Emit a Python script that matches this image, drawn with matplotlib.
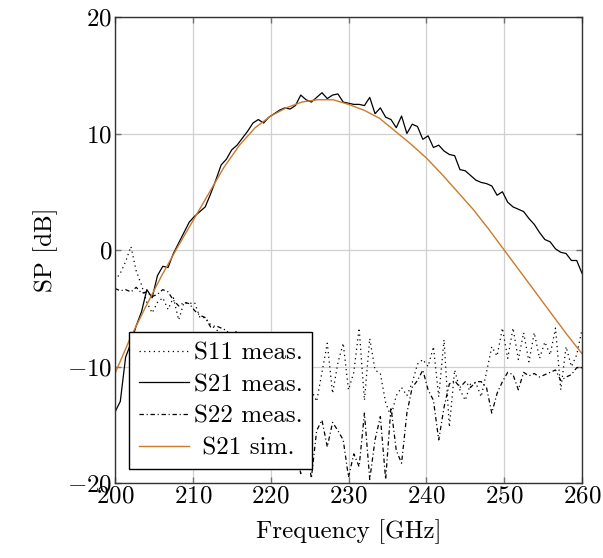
import matplotlib
matplotlib.use("Agg")
import matplotlib.pyplot as plt
import numpy as np

plt.rcParams.update(
    {
        "font.family": "serif",
        "font.serif": ["cmr10"],
        "mathtext.fontset": "cm",
        "axes.formatter.use_mathtext": True,
        "font.size": 18,
        "axes.unicode_minus": True,
    }
)

# frequency grid of the measurement (GHz)
freq = np.linspace(200, 260, 89)

s11_meas = [
    -2.6, -2.0, -1.0, 0.3, -1.8, -3.0, -4.5, -5.4, -4.5, -4.1,
    -5.1, -4.1, -6.0, -4.5, -4.6, -4.5, -5.8, -5.8, -6.4, -6.8,
    -7.2, -8.0, -9.5, -8.5, -10.5, -9.2, -11.5, -10.0, -12.5, -10.8,
    -13.0, -11.0, -14.0, -11.5, -13.5, -10.5, -14.0, -12.0, -13.0, -10.5,
    -8.0, -12.3, -9.7, -8.0, -12.0, -10.5, -6.7, -12.9, -7.6, -10.3,
    -10.6, -13.1, -14.3, -12.5, -11.8, -12.5, -11.4, -9.8, -9.4, -10.0,
    -8.3, -12.6, -7.7, -15.2, -10.3, -12.0, -12.9, -11.5, -11.4, -12.6,
    -10.5, -8.3, -9.1, -6.7, -9.3, -6.7, -9.4, -7.1, -9.6, -7.1,
    -9.3, -7.9, -9.0, -6.7, -12.0, -8.3, -10.0, -9.0, -6.8,
]

s21_meas = [
    -13.9, -13.0, -9.2, -8.0, -6.5, -5.3, -3.4, -4.1, -2.2, -1.4,
    -1.5, -0.3, 0.6, 1.5, 2.4, 2.9, 3.3, 3.7, 4.8, 6.0,
    7.3, 7.8, 8.6, 9.0, 9.6, 10.2, 10.9, 11.2, 10.9, 11.4,
    11.7, 12.0, 12.2, 12.1, 12.4, 13.3, 12.9, 12.7, 13.1, 13.5,
    13.0, 13.3, 13.4, 12.7, 12.6, 12.5, 12.5, 12.4, 13.1, 11.7,
    12.2, 11.4, 11.2, 10.5, 11.5, 10.0, 10.8, 10.6, 9.5, 9.8,
    8.8, 9.0, 8.5, 8.2, 8.1, 6.9, 6.8, 6.4, 6.0, 5.8,
    5.7, 5.5, 4.7, 5.0, 4.1, 3.7, 3.5, 3.3, 2.7, 2.2,
    1.5, 0.9, 0.7, 0.1, -0.2, -0.3, -0.9, -0.9, -2.0,
]

s22_meas = [
    -3.3, -3.5, -3.4, -3.6, -3.2, -3.7, -3.6, -4.0, -3.8, -3.4,
    -3.6, -4.3, -4.8, -4.5, -4.6, -5.2, -5.6, -5.8, -6.6, -6.5,
    -6.7, -6.9, -7.5, -6.9, -8.2, -8.8, -9.5, -10.2, -11.0, -12.5,
    -11.8, -13.5, -14.2, -15.5, -17.0, -19.2, -16.5, -19.6, -15.5, -14.6,
    -16.9, -14.8, -15.5, -16.3, -19.5, -17.5, -18.6, -14.0, -19.7, -16.3,
    -14.3, -19.7, -13.5, -17.2, -18.3, -14.0, -11.8, -11.2, -10.3, -12.0,
    -12.9, -16.3, -13.5, -11.5, -11.2, -11.8, -11.3, -11.8, -11.3, -11.3,
    -11.8, -14.0, -12.3, -11.3, -10.5, -10.7, -12.0, -10.5, -10.8, -10.6,
    -10.9, -10.7, -10.5, -10.3, -11.2, -10.9, -10.7, -10.1, -10.1,
]

# simulated S21
freq_sim = np.arange(200, 261, 2)
s21_sim = [
    -10.6, -7.5, -4.8, -2.2, 0.2, 2.5, 4.8, 7.1, 9.0, 10.5,
    11.5, 12.2, 12.7, 12.9, 12.9, 12.5, 12.0, 11.3, 10.2, 9.1,
    7.9, 6.5, 5.0, 3.5, 1.8, 0.0, -1.8, -3.6, -5.4, -7.2,
    -8.9,
]

fig = plt.figure(figsize=(6.03, 5.58), dpi=100)
ax = fig.add_axes([0.1907, 0.1344, 0.7745, 0.8351])

ax.plot(freq, s11_meas, color="black", linestyle=(0, (1, 2.8)), linewidth=0.9,
        label="S11 meas.")
ax.plot(freq, s21_meas, color="black", linestyle="-", linewidth=0.9,
        label="S21 meas.")
ax.plot(freq, s22_meas, color="black", linestyle=(0, (3.5, 2.2, 0.9, 2.2)),
        linewidth=0.9, label="S22 meas.")
ax.plot(freq_sim, s21_sim, color="#cc7a2a", linestyle="-", linewidth=1.0,
        label=" S21 sim.")

ax.set_xlim(200, 260)
ax.set_ylim(-20, 20)
ax.set_xticks(np.arange(200, 261, 10))
ax.set_yticks(np.arange(-20, 21, 10))
ax.grid(True, color="#d0d0d0", linewidth=0.9)
ax.set_axisbelow(True)
ax.tick_params(direction="in", top=True, right=True, length=4, color="0.45",
               width=1.0, pad=2)
for sp in ax.spines.values():
    sp.set_linewidth(1.0)
    sp.set_color("0.2")

ax.set_xlabel("Frequency [GHz]", labelpad=8)
ax.set_ylabel("SP [dB]", labelpad=6)

leg = ax.legend(
    loc="lower left",
    bbox_to_anchor=(0.03, 0.03),
    borderaxespad=0,
    fancybox=False,
    framealpha=1,
    edgecolor="black",
    handlelength=2.0,
    handletextpad=0.2,
    labelspacing=0.37,
    borderpad=0.38,
)
leg.get_frame().set_linewidth(1.0)

fig.savefig("out.png", dpi=100)
